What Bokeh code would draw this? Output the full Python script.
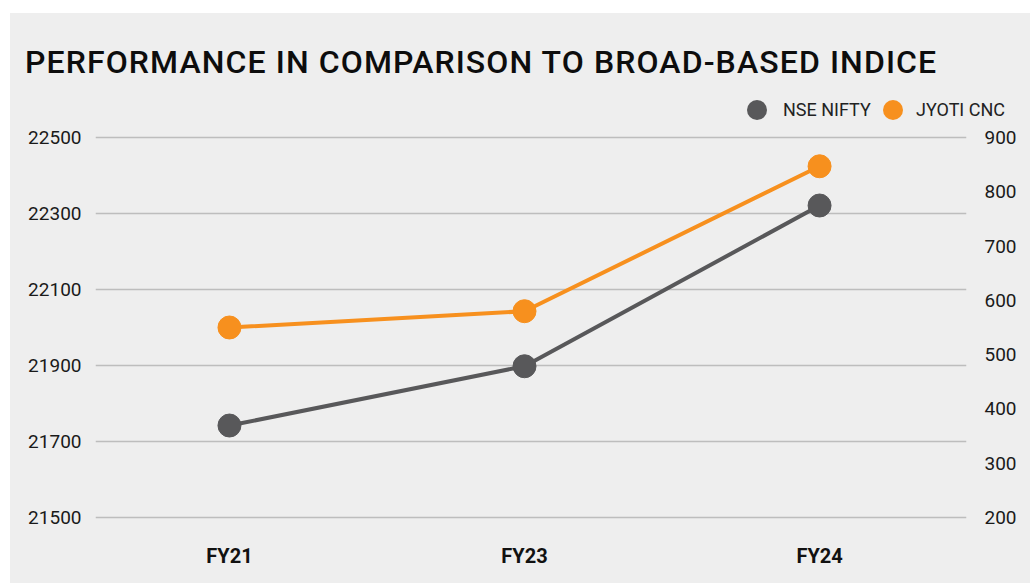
from bokeh.plotting import figure
from bokeh.models import Range1d, LinearAxis, FixedTicker, Div
from bokeh.layouts import column
from bokeh.embed import file_html
from bokeh.resources import INLINE

title_text = "PERFORMANCE IN COMPARISON TO BROAD-BASED INDICE"
categories = ["FY21", "FY23", "FY24"]
series_names = ["NSE NIFTY", "JYOTI CNC"]
nifty = [21742, 21898, 22321]
jyoti = [550, 580, 847]
left_ticks = [21500, 21700, 21900, 22100, 22300, 22500]
right_ticks = [200, 300, 400, 500, 600, 700, 800, 900]

xs = list(range(len(categories)))
GRAY = "#58585a"
ORANGE = "#f7901e"
BG = "#eeeeee"
FONT = "Roboto"

# ---- header: title + legend ----
def dot(left, color):
    return (f'<span style="position:absolute;left:{left}px;top:87px;width:20px;height:20px;'
            f'border-radius:50%;background:{color};"></span>')

def lab(left, txt):
    return (f'<span style="position:absolute;left:{left}px;top:88px;font-size:18px;'
            f'line-height:18px;color:#222222;white-space:nowrap;">{txt}</span>')

html = (f'<div style="position:relative;width:1020px;height:110px;background:{BG};'
        f'font-family:Roboto, sans-serif;">'
        f'<span style="position:absolute;left:15px;top:33px;font-size:32px;line-height:32px;'
        f'font-weight:500;letter-spacing:1.1px;color:#0d0d0d;white-space:nowrap;">{title_text}</span>'
        + dot(737, GRAY) + lab(773, series_names[0])
        + dot(873, ORANGE) + lab(906, series_names[1])
        + '</div>')
header = Div(text=html, width=1020, height=110, margin=(13, 0, 0, 10),
             styles={"background-color": BG})

# ---- chart ----
p = figure(width=1020, height=460, output_backend="svg", toolbar_location=None,
           x_range=Range1d(-0.454, 2.498), y_range=Range1d(21494.7, 22518.4),
           background_fill_color=BG, border_fill_color=BG,
           min_border_left=85, min_border_right=64, min_border_top=7,
           min_border_bottom=64, outline_line_color=None, margin=(0, 0, 0, 10),
           styles={"background-color": BG})
p.extra_y_ranges = {"right": Range1d(196.3, 912.9)}

p.xaxis.ticker = FixedTicker(ticks=xs)
p.xaxis.major_label_overrides = {i: c for i, c in enumerate(categories)}
p.xaxis.major_label_text_font = FONT
p.xaxis.major_label_text_font_style = "bold"
p.xaxis.major_label_text_font_size = "20px"
p.xaxis.major_label_text_color = "#111111"
p.xaxis.major_label_standoff = 18
p.yaxis.ticker = FixedTicker(ticks=left_ticks)
p.yaxis.major_label_standoff = 8

ra = LinearAxis(y_range_name="right", ticker=FixedTicker(ticks=right_ticks),
                major_label_standoff=12)
p.add_layout(ra, "right")

for ax in p.axis:
    ax.axis_line_color = None
    ax.major_tick_line_color = None
    ax.minor_tick_line_color = None
for ax in p.yaxis:
    ax.major_label_text_font = FONT
    ax.major_label_text_font_size = "19px"
    ax.major_label_text_color = "#1a1a1a"

p.xgrid.grid_line_color = None
p.ygrid.ticker = FixedTicker(ticks=left_ticks)
p.ygrid.grid_line_color = "#bdbdbd"
p.ygrid.grid_line_width = 1.5

p.line(xs, nifty, line_color=GRAY, line_width=4)
p.scatter(xs, nifty, size=23, fill_color=GRAY, line_color=GRAY)
p.line(xs, jyoti, line_color=ORANGE, line_width=4, y_range_name="right")
p.scatter(xs, jyoti, size=23, fill_color=ORANGE, line_color=ORANGE, y_range_name="right")

layout = column(header, p, spacing=0)
open("out.html", "w").write(file_html(layout, INLINE))
